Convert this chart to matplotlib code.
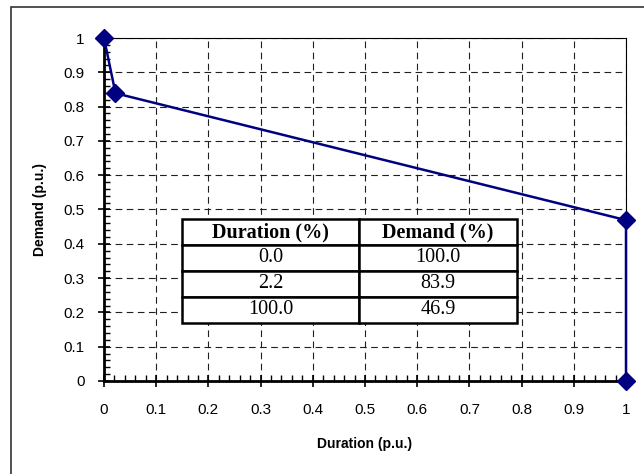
import matplotlib
matplotlib.use("Agg")
from matplotlib import pyplot as plt
from matplotlib.ticker import MultipleLocator
from matplotlib.patches import Rectangle

# load duration curve (p.u.)
duration = [0.0, 0.022, 1.0, 1.0]
demand = [1.0, 0.839, 0.469, 0.0]

# table contents
col_labels = ["Duration (%)", "Demand (%)"]
tab_duration = ["0.0", "2.2", "100.0"]
tab_demand = ["100.0", "83.9", "46.9"]

plt.rcParams["font.family"] = ["Liberation Sans", "DejaVu Sans"]

fig = plt.figure(figsize=(6.44, 4.74), dpi=100)
ax = fig.add_axes([104 / 644, 1 - 381 / 474, 522 / 644, 343 / 474])

# outer chart frame (right and bottom edges fall outside the picture)
fig.patches.append(Rectangle((11 / 644, -0.1), 1.2, 0.1 + 1 - 7 / 474,
                             transform=fig.transFigure, fill=False,
                             edgecolor="#333333", linewidth=1.2, zorder=0))

ax.plot(duration, demand, color="#000080", linewidth=1.8, marker="D",
        markersize=9, clip_on=False, zorder=5)

ax.set_xlim(0, 1)
ax.set_ylim(0, 1)
ax.xaxis.set_major_locator(MultipleLocator(0.1))
ax.yaxis.set_major_locator(MultipleLocator(0.1))
ax.xaxis.set_minor_locator(MultipleLocator(0.02))
ax.yaxis.set_minor_locator(MultipleLocator(0.02))
ax.xaxis.set_major_formatter(plt.FuncFormatter(lambda v, p: "%g" % round(v, 2)))
ax.yaxis.set_major_formatter(plt.FuncFormatter(lambda v, p: "%g" % round(v, 2)))

ax.tick_params(which="major", direction="inout", length=8, width=1.2,
               labelsize=11)
ax.tick_params(axis="x", which="major", pad=12)
ax.tick_params(axis="y", which="major", pad=10)
ax.tick_params(which="minor", direction="in", length=4, width=1)

ax.grid(True, which="major", color="#202020", linestyle=(0, (6, 4)),
        linewidth=0.8)

for side in ["left", "bottom"]:
    ax.spines[side].set_linewidth(2)
for side in ["top", "right"]:
    ax.spines[side].set_linewidth(0.8)

ax.set_xlabel("Duration (p.u.)", fontsize=10, fontweight="bold", labelpad=14)
ax.set_ylabel("Demand (p.u.)", fontsize=10, fontweight="bold", labelpad=12)

# data table inside the plot
cells = [[d, m] for d, m in zip(tab_duration, tab_demand)]
tab = ax.table(cellText=cells, colLabels=col_labels, cellLoc="center",
               bbox=[78 / 522, 58 / 343, 335 / 522, 104 / 343], zorder=6)
tab.auto_set_font_size(False)
tab.set_fontsize(14.5)
for (r, c), cell in tab.get_celld().items():
    cell.set_linewidth(1.8)
    cell.set_edgecolor("black")
    cell.set_facecolor("white")
    cell.set_width((177 if c == 0 else 158) / 522)
    txt = cell.get_text()
    txt.set_fontfamily(["Liberation Serif", "DejaVu Serif"])
    if r == 0:
        txt.set_fontweight("bold")

fig.savefig("out.png", dpi=100)
